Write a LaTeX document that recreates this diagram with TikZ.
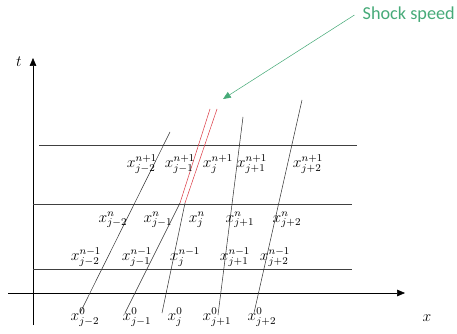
\documentclass[tikz,border=0pt]{standalone}
\usepackage{fontspec}
\newfontfamily\shockfont{Carlito}
\usetikzlibrary{arrows.meta}
\definecolor{shockgreen}{RGB}{70,170,120}
\definecolor{shockred}{RGB}{220,60,70}

\begin{document}
\begin{tikzpicture}[x=0.9cm, y=0.9cm, >={Triangle[length=6pt,width=5pt]},
  grid/.style={thin, black!75},
  track/.style={thin, black!80},
  lbl/.style={font=\large, inner sep=0pt}]
  \useasboundingbox (-0.99,-1.2) rectangle (12.72,8.79);

  % The axes x and t
  \draw[thin, ->] (-0.75,0) -- (11.16,0);
  \draw[thin, ->] (0,-0.96) -- (0,7.05);
  \node[lbl] (tlab) at (-0.42,6.93) {$t$};
  \node[lbl] (xlab) at (11.82,-0.75) {$x$};

  % Time levels n-1, n and n+1
  \draw[grid] (0.18,4.44) -- (9.72,4.44);
  \draw[grid] (0,2.67) -- (9.57,2.67);
  \draw[grid] (0,0.72) -- (9.57,0.72);

  % Trajectories of the grid points
  \draw[track] (1.41,-0.6) -- (4.11,4.83);
  \draw[track] (2.76,-0.6) -- (4.41,2.7);
  \draw[track] (3.87,-0.6) -- (4.56,2.7);
  \draw[track] (5.55,-0.66) -- (6.3,5.28);
  \draw[track] (6.63,-0.6) -- (8.07,5.79);

  % The shock
  \draw[thin, shockred] (4.41,2.7) -- (5.31,5.52);
  \draw[thin, shockred] (4.56,2.7) -- (5.52,5.52);

  % Shock speed label
  \node[font=\shockfont\fontsize{14}{16}\selectfont, text=shockgreen, anchor=east, inner sep=1pt] (shock) at (12.7,8.34) {Shock speed};
  \coordinate (tip) at (5.7,5.82);
  \draw[shockgreen, thin, ->] (shock.west) ++(-0.2,0) coordinate (tail) (tail) -- (tip);

  % Level n+1
  \node[lbl] (p1m2) at (3.27,3.87) {$x^{n+1}_{j-2}$};
  \node[lbl] (p1m1) at (4.41,3.87) {$x^{n+1}_{j-1}$};
  \node[lbl] (p1j)  at (5.55,3.87) {$x^{n+1}_{j}$};
  \node[lbl] (p1p1) at (6.57,3.87) {$x^{n+1}_{j+1}$};
  \node[lbl] (p1p2) at (8.25,3.87) {$x^{n+1}_{j+2}$};

  % Level n
  \node[lbl] (p0m2) at (2.4,2.19) {$x^{n}_{j-2}$};
  \node[lbl] (p0m1) at (3.75,2.19) {$x^{n}_{j-1}$};
  \node[lbl] (p0j)  at (4.92,2.19) {$x^{n}_{j}$};
  \node[lbl] (p0p1) at (6.21,2.19) {$x^{n}_{j+1}$};
  \node[lbl] (p0p2) at (7.62,2.19) {$x^{n}_{j+2}$};

  % Level n-1
  \node[lbl] (m1m2) at (1.59,1.08) {$x^{n-1}_{j-2}$};
  \node[lbl] (m1m1) at (3.12,1.08) {$x^{n-1}_{j-1}$};
  \node[lbl] (m1j)  at (4.56,1.08) {$x^{n-1}_{j}$};
  \node[lbl] (m1p1) at (6.06,1.08) {$x^{n-1}_{j+1}$};
  \node[lbl] (m1p2) at (7.26,1.08) {$x^{n-1}_{j+2}$};

  % Initial level
  \node[lbl] (z0m2) at (1.56,-0.72) {$x^{0}_{j-2}$};
  \node[lbl] (z0m1) at (3.12,-0.72) {$x^{0}_{j-1}$};
  \node[lbl] (z0j)  at (4.26,-0.72) {$x^{0}_{j}$};
  \node[lbl] (z0p1) at (5.52,-0.72) {$x^{0}_{j+1}$};
  \node[lbl] (z0p2) at (6.87,-0.72) {$x^{0}_{j+2}$};

\end{tikzpicture}
\end{document}
